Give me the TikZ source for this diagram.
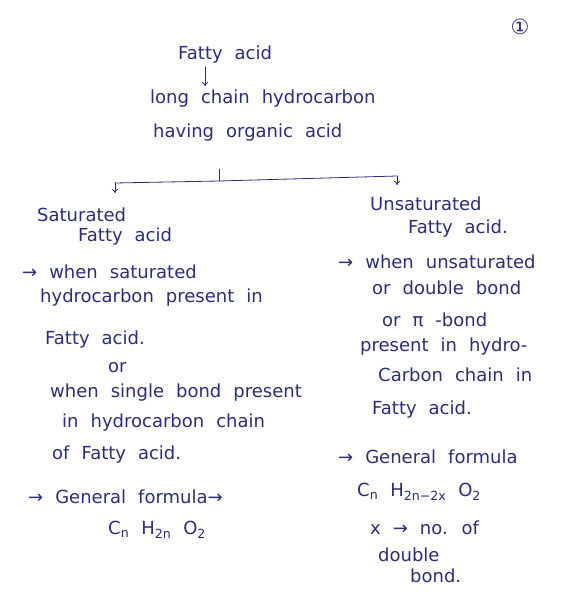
\documentclass[tikz,border=0pt]{standalone}
\usepackage{fontspec}
\setmainfont{DejaVu Sans}
\usetikzlibrary{positioning,arrows.meta,calc}
\definecolor{ink}{HTML}{2B2E7A}
\newcommand{\handfont}{\fontsize{18}{20}\selectfont\spaceskip=12pt plus 2pt\relax}
\tikzset{
  hand/.style={anchor=west,inner sep=0pt,text=ink,font=\handfont},
  pen/.style={draw=ink,line width=0.8pt,line cap=round},
  tip/.style={pen,-{To[length=1.4mm,width=2.2mm]}},
}
\begin{document}
\begin{tikzpicture}[x=1pt,y=-1pt]
  \useasboundingbox[fill=white] (0,0) rectangle (560,604);
  % page number
  \node[hand,anchor=center,font=\fontsize{21}{22}\selectfont] (page) at (520,27) {①};
  % head
  \node[hand] (title) at (178,55) {Fatty acid};
  \node[hand] (chain) at (150,99) {long chain hydrocarbon};
  \node[hand] (having) at (153,133) {having organic acid};
  \draw[tip] ([xshift=27pt,yshift=-3pt]title.south west) -- ([xshift=55pt,yshift=4pt]chain.north west);
  % branch
  \coordinate (fork) at (219,181);
  \coordinate (lend) at (115,183);
  \coordinate (rend) at (397,176);
  \draw[pen] (fork) -- ++(0,-12);
  \draw[pen] (lend) -- (fork) -- (rend);
  \draw[tip] (lend) -- ++(0,10);
  \draw[tip] (rend) -- ++(0,9);
  % saturated side
  \foreach \n/\x/\y/\t in {
      s1/37/215/{Saturated},
      s2/78/237/{Fatty acid},
      s3/22/272/{→ when saturated},
      s4/40/298/{hydrocarbon present in},
      s5/45/340/{Fatty acid.},
      s6/108/368/{or},
      s7/50/393/{when single bond present},
      s8/62/423/{in hydrocarbon chain},
      s9/52/455/{of Fatty acid.},
      s10/28/497/{→ General formula→},
      s11/108/530/{C\textsubscript{n} H\textsubscript{2n} O\textsubscript{2}}%
    }{
      \node[hand] (\n) at (\x,\y) {\t};
    }
  % unsaturated side
  \foreach \n/\x/\y/\t in {
      u1/370/204/{Unsaturated},
      u2/408/229/{Fatty acid.},
      u3/338/262/{→ when unsaturated},
      u4/372/288/{or double bond},
      u5/382/320/{or π -bond},
      u6/360/347/{present in hydro-},
      u7/378/375/{Carbon chain in},
      u8/372/410/{Fatty acid.},
      u9/338/457/{→ General formula},
      u10/357/492/{C\textsubscript{n} H\textsubscript{2n−2x} O\textsubscript{2}},
      u11/370/528/{x → no. of},
      u12/378/555/{double},
      u13/410/576/{bond.}%
    }{
      \node[hand] (\n) at (\x,\y) {\t};
    }
\end{tikzpicture}
\end{document}
